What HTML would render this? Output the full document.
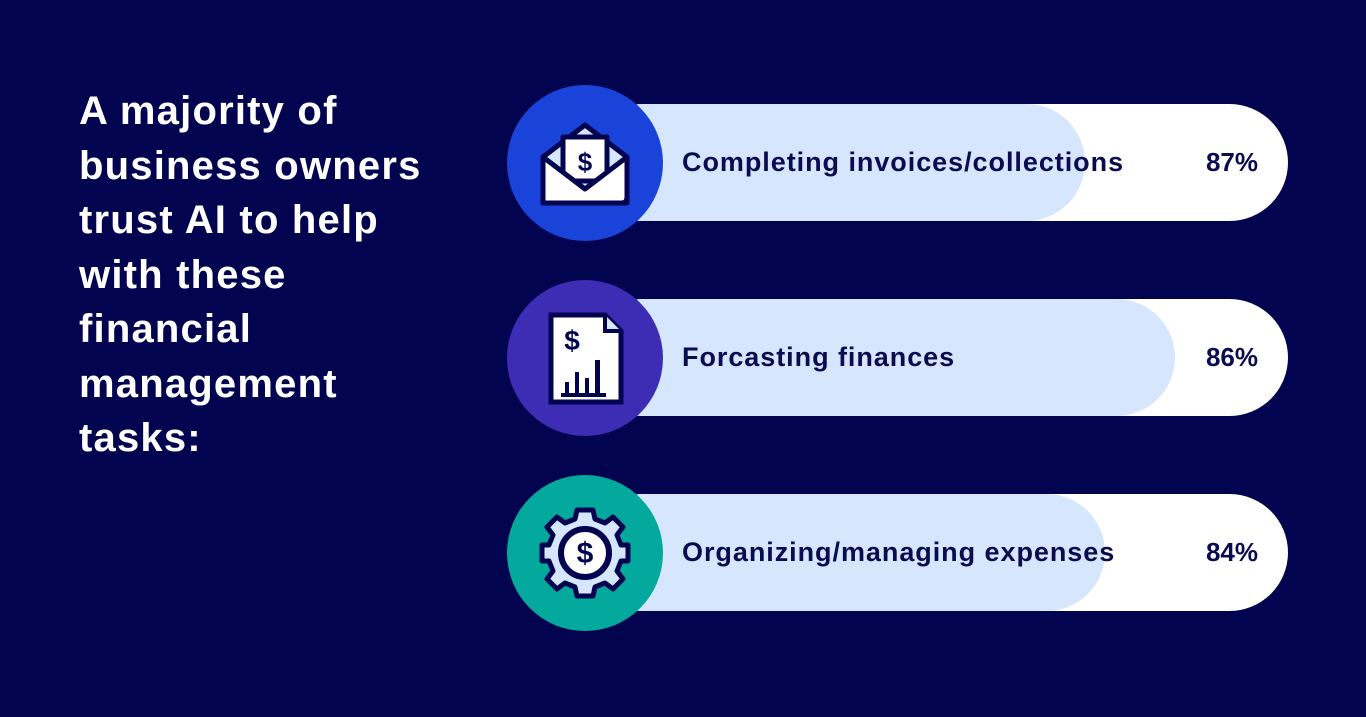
<!DOCTYPE html>
<html><head><meta charset="utf-8"><style>
body{margin:0;width:1366px;height:717px;background:#03044f;overflow:hidden;font-family:"Liberation Sans",sans-serif;position:relative}
h1{position:absolute;left:79px;top:84px;margin:0;color:#fff;font-size:40px;line-height:54.5px;font-weight:600;letter-spacing:1.2px}
.bar{position:absolute;left:585px;width:703px;height:117px;border-radius:58.5px;background:#fff;overflow:hidden}
.fill{position:absolute;left:0;top:0;height:117px;border-radius:0 58.5px 58.5px 0;background:#d6e6fd}
.lab{position:absolute;left:97px;top:0;line-height:117px;font-size:27px;font-weight:600;color:#0b0b4f;letter-spacing:0.95px}
.pct{position:absolute;right:30px;top:0;line-height:117px;font-size:26px;font-weight:600;color:#0b0b4f}
.c{position:absolute;left:507px;width:156px;height:156px;border-radius:50%}
.c svg{position:absolute;left:0;top:0}
</style></head><body>
<h1>A majority of<br>business owners<br>trust AI to help<br>with these<br>financial<br>management<br>tasks:</h1>

<div class="bar" style="top:104px"><div class="fill" style="width:500px"></div><div class="lab">Completing invoices/collections</div><div class="pct">87%</div></div>
<div class="bar" style="top:299px"><div class="fill" style="width:590px"></div><div class="lab">Forcasting finances</div><div class="pct">86%</div></div>
<div class="bar" style="top:494px"><div class="fill" style="width:520px"></div><div class="lab">Organizing/managing expenses</div><div class="pct">84%</div></div>

<div class="c" style="top:85px;background:#1a44d9"><svg width="156" height="156" viewBox="0 0 156 156">
<g stroke="#03044f" stroke-width="5" stroke-linejoin="round">
<path d="M36 72 L78 40 L120 72 L120 118 L36 118 Z" fill="#d6e6fd"/>
<rect x="56" y="52" width="44" height="44" fill="#fff"/>
<path d="M36 72 L78 104 L120 72 L120 112 Q120 118 114 118 L36 118 Z" fill="#fff"/>
</g>
<text x="78" y="86" text-anchor="middle" font-size="26" font-weight="bold" fill="#03044f" font-family="Liberation Sans">$</text>
</svg></div>

<div class="c" style="top:280px;background:#3d2db5"><svg width="156" height="156" viewBox="0 0 156 156">
<path d="M44 35 L98 35 L114 51 L114 122 L44 122 Z" fill="#fff" stroke="#03044f" stroke-width="5"/>
<path d="M98 35 L98 51 L114 51" fill="#d6e6fd" stroke="#03044f" stroke-width="4"/>
<text x="65" y="70" text-anchor="middle" font-size="28" font-weight="bold" fill="#03044f" font-family="Liberation Sans">$</text>
<g fill="#03044f"><rect x="58" y="102" width="4" height="12"/><rect x="68" y="92" width="4" height="22"/><rect x="78" y="98" width="4" height="16"/><rect x="88" y="80" width="5" height="34"/><rect x="54" y="113" width="45" height="4"/></g>
</svg></div>

<div class="c" style="top:475px;background:#03a99c"><svg width="156" height="156" viewBox="0 0 156 156">
<g transform="translate(78,78)">
<g fill="#d6e6fd" stroke="#03044f" stroke-width="5" stroke-linejoin="round">
<path d="M-8 -43 L8 -43 L10 -34 L20 -30 L28 -36 L38 -26 L32 -18 L36 -8 L43 -8 L43 8 L36 8 L32 18 L38 26 L28 36 L20 30 L10 34 L8 43 L-8 43 L-10 34 L-20 30 L-28 36 L-38 26 L-32 18 L-36 8 L-43 8 L-43 -8 L-36 -8 L-32 -18 L-38 -26 L-28 -36 L-20 -30 L-10 -34 Z"/>
</g>
<circle r="24" fill="#fff" stroke="#03044f" stroke-width="6"/>
<text y="10" text-anchor="middle" font-size="30" font-weight="bold" fill="#03044f" font-family="Liberation Sans">$</text>
</g></svg></div>
</body></html>
